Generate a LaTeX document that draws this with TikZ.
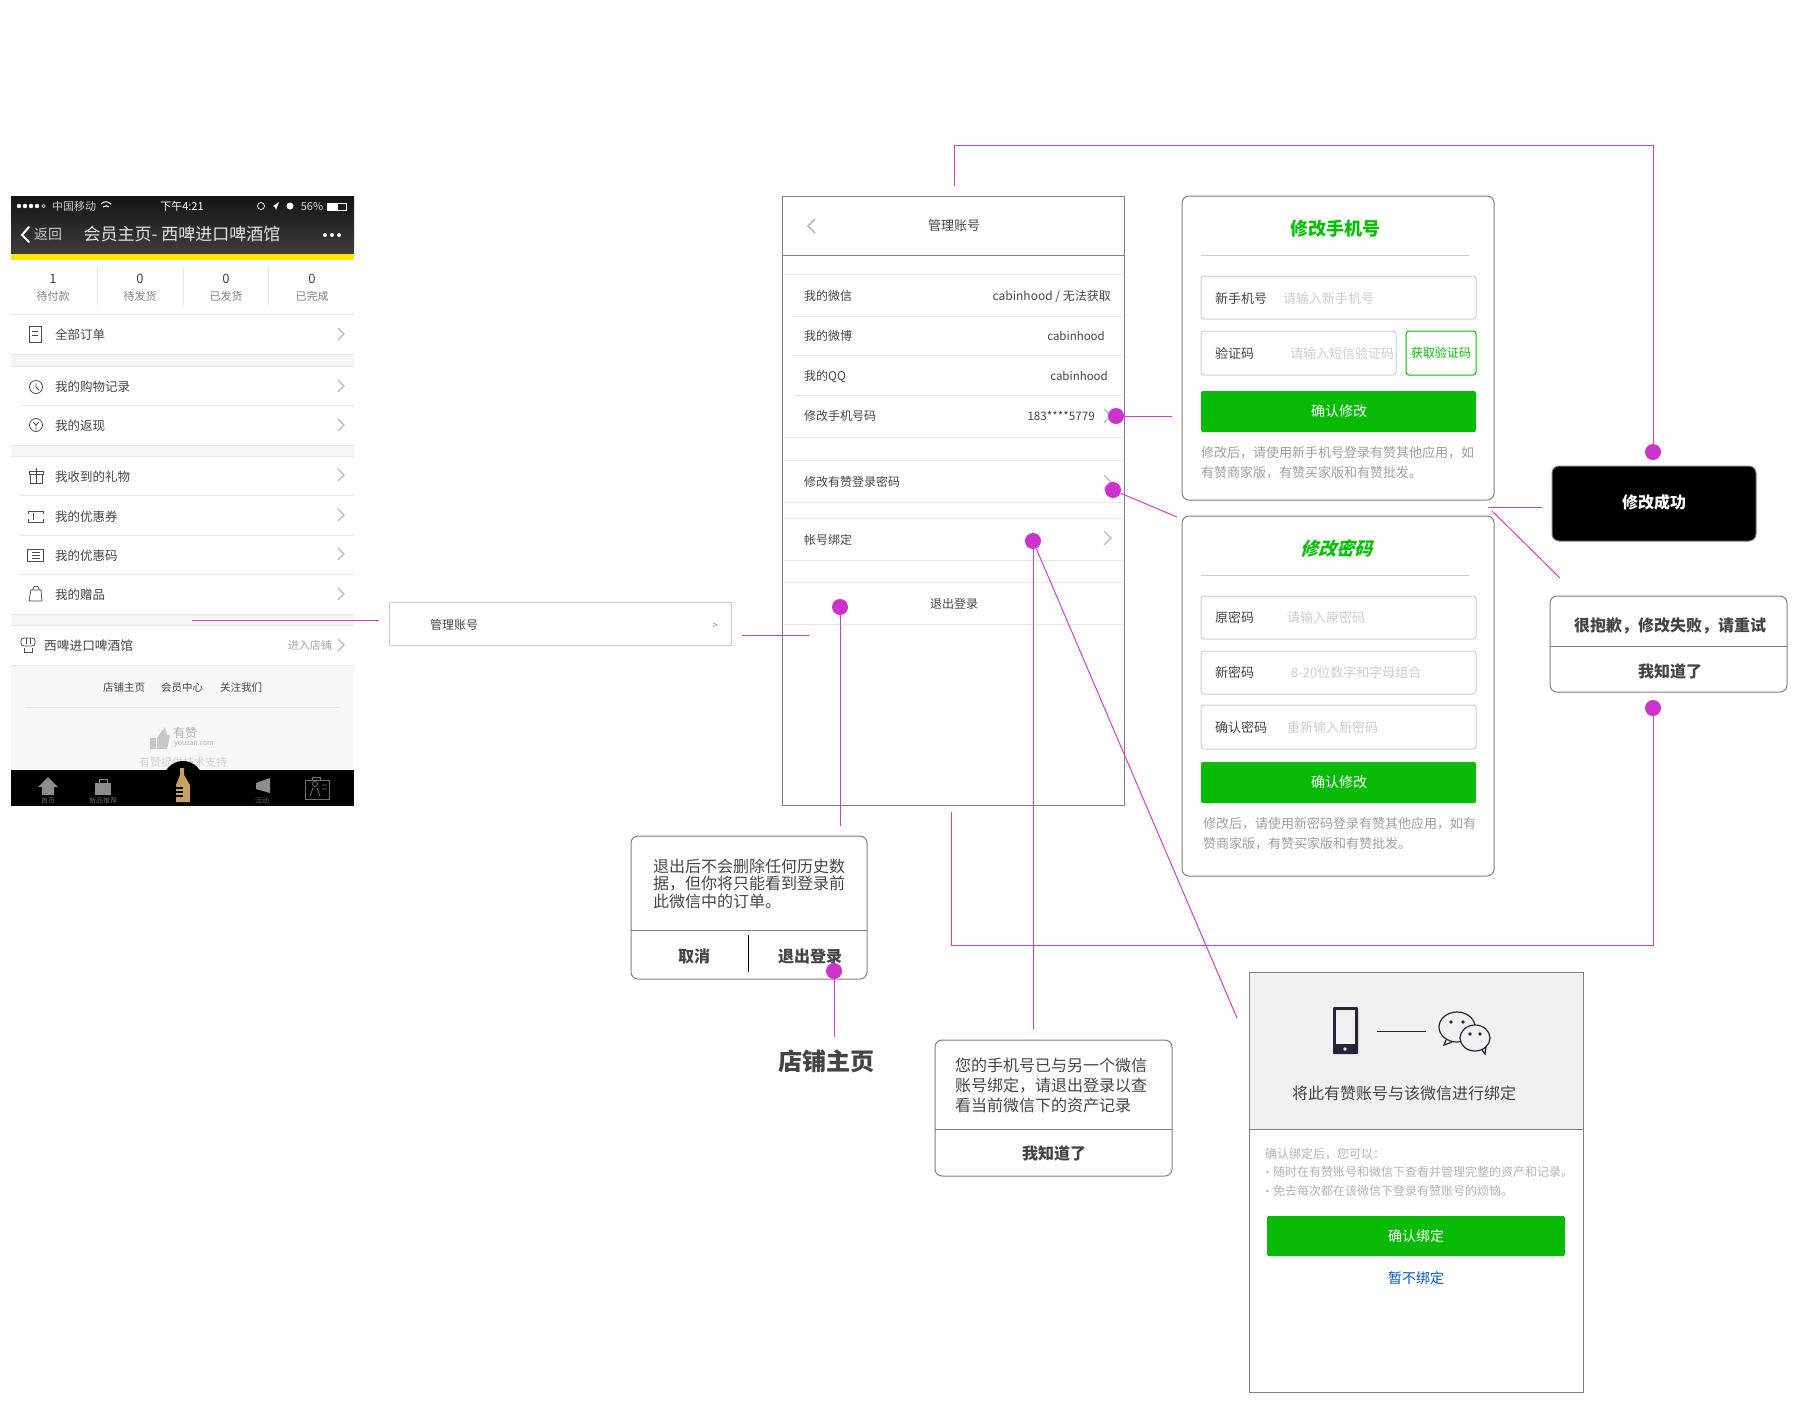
\documentclass[tikz,border=0pt]{standalone}
\usepackage{fontspec}
\setmainfont{Noto Sans CJK SC}
\newfontfamily\slantcjk[FakeSlant=0.3,BoldFeatures={FakeSlant=0.3}]{Noto Sans CJK SC}
\definecolor{linkpink}{HTML}{D53AD5}
\definecolor{dotpink}{HTML}{CC33CC}
\definecolor{okgreen}{HTML}{09BB07}
\definecolor{titlegreen}{HTML}{00C000}
\definecolor{framegray}{HTML}{808080}
\definecolor{sepgray}{HTML}{E6E6E6}
\definecolor{boxgray}{HTML}{CCCCCC}
\definecolor{inkgray}{HTML}{444444}
\definecolor{iconink}{HTML}{25253A}
\definecolor{bottletan}{HTML}{C8A064}
\tikzset{
  sz/.style={inner sep=0pt,font=\fontsize{#1}{#1}\selectfont,text height={0.9*#1pt},text depth={0.1*#1pt},text=inkgray},
  lefttxt/.style={sz=#1,anchor=west},
  righttxt/.style={sz=#1,anchor=east},
  hint/.style={lefttxt=13,text=boxgray},
  note/.style={lefttxt=13,text=black!38},
  bindnote/.style={lefttxt=12,text=black!30},
  tiptxt/.style={lefttxt=16},
  boldtxt/.style={sz=16,font=\fontsize{16}{16}\selectfont\bfseries},
  link/.style={draw=linkpink,line width=1pt},
  dot/.style={circle,fill=dotpink,inner sep=0pt,minimum size=16pt},
  sep/.style={draw=sepgray,line width=1pt},
  chev/.style={draw=black!28,line width=1.2pt},
  frame/.style={draw=framegray,line width=1pt},
  card/.style={frame,rounded corners=7pt},
  field/.style={draw=boxgray,line width=1pt,rounded corners=3pt},
  okbtn/.style={fill=okgreen,rounded corners=2pt},
  okbtntxt/.style={sz=14,text=white},
  icon/.style={draw=black!70,line width=.8pt},
  tabicon/.style={fill=black!45},
}
\begin{document}
\begin{tikzpicture}[x=1pt,y=-1pt]
\useasboundingbox (0,0) rectangle (1797,1401);
% left phone, top bar
\fill[top color=black!92,bottom color=black!76] (11,196) rectangle (354,254);
\fill[yellow!88!orange] (11,254) rectangle (354,260);
\foreach \x in {19,25,31,37}{\fill[white] (\x,206) circle(2.2);}
\draw[white,line width=.5pt] (43.5,206) circle(1.8);
\node[lefttxt=11,text=black!20] (carrier) at (52,206) {中国移动};
\draw[white,line width=1pt] (101,204) arc(220:320:6.5);
\draw[white,line width=1pt] (103,207) arc(220:320:3.8);
\node[sz=11,text=white] (clock) at (182,206) {下午4:21};
\draw[white,line width=.7pt] (261,206) circle(3.5);
\fill[white] (273,206)--(279,202)--(276,210)--(275,207)--cycle;
\fill[white] (290,206) circle(3.5);
\node[sz=11,text=black!15] (battery) at (312,206) {56\%};
\draw[white,line width=.6pt] (327,203) rectangle (346,210);
\fill[white] (327,203) rectangle (338,210);
\draw[white,line width=2pt,line cap=round] (29,227)--(22,235)--(29,242);
\node[lefttxt=14,text=black!20] (backtxt) at (34,234) {返回};
\node[sz=17,text=black!10] (shoptitle) at (182,234) {会员主页- 西啤进口啤酒馆};
\foreach \x in {325,332,339}{\fill[white] (\x,235) circle(2);}
% order counters
\foreach \i/\x/\n/\t in {a/53/1/待付款,b/140/0/待发货,c/226/0/已发货,d/312/0/已完成}{
  \node[sz=13] (num\i) at (\x,278) {\n};
  \node[sz=11,text=black!50] (lab\i) at (\x,296) {\t};
}
\foreach \x in {97,183,268}{\draw[sep] (\x,268)--(\x,305);}
% menu of the left phone
\fill[black!4] (11,354) rectangle (354,366);
\fill[black!4] (11,445) rectangle (354,456);
\fill[black!4] (11,614) rectangle (354,625);
\foreach \y in {314,354,366,445,456,614,625,665}{\draw[sep] (11,\y)--(354,\y);}
\foreach \y in {405,495,535,574}{\draw[sep] (20,\y)--(354,\y);}
\foreach \i/\y/\t in {a/334/全部订单,b/386/我的购物记录,c/425/我的返现,d/476/我收到的礼物,e/516/我的优惠券,f/555/我的优惠码,g/594/我的赠品}{
  \node[lefttxt=12.5] (menu\i) at (55,\y) {\t};
}
\foreach \y in {334,386,425,475,515,554,594,645}{
  \draw[chev] (338,\y-6)--(344,\y)--(338,\y+6);
}
\draw[icon] (29,326) rectangle (41,342); % doc
\draw[icon] (32,331)--(38,331) (32,335)--(38,335);
\draw[icon] (36,387) circle(6.5);\draw[icon] (36,383)--(36,387)--(39,390); % clock
\draw[icon] (36,425) circle(6.5);\draw[icon] (33,422)--(36,425)--(39,422) (36,425)--(36,430); % yen
\draw[icon] (30,474) rectangle (42,483) (29,471) rectangle (43,474) (36,468)--(36,483); % gift
\draw[icon] (28,511)--(43,511)--(43,514) (43,519)--(43,522)--(28,522)--(28,519) (28,514)--(28,511) (33,513)--(33,520); % ticket
\draw[icon] (27,549) rectangle (43,561) (32,552)--(40,552) (32,555)--(40,555) (32,558)--(40,558); % code
\draw[icon] (31,590)--(41,590)--(42,601)--(29,601)--cycle (33,590)--(33,589) arc(180:360:3)--(39,590); % bag
\draw[icon,rounded corners=3pt] (21,646)--(21,638)--(35,638)--(35,646)--cycle; % shop
\draw[icon] (26,638)--(26,644) (30,638)--(30,644) (24,648)--(24,652)--(32,652)--(32,648);
\node[lefttxt=12.7] (shopname) at (44,645) {西啤进口啤酒馆};
\node[righttxt=11,text=black!35] (enter) at (332,645) {进入店铺};
% footer of the left phone
\fill[black!3] (11,666) rectangle (354,770);
\foreach \i/\x/\t in {a/124/店铺主页,b/182/会员中心,c/241/关注我们}{
  \node[sz=10.5] (foot\i) at (\x,687) {\t};
}
\draw[sep] (25,707)--(340,707);
\fill[black!22] (150,738) rectangle (156,749) (157,738)--(165,727)--(167,735)--(170,735)--(167,749)--(157,749)--cycle;
\node[sz=12,text=black!30] (zan) at (185,733) {有赞};
\node[sz=7,text=black!30] (zanurl) at (194,743) {youzan.com};
\node[sz=11,text=black!18] (support) at (183,762) {有赞提供技术支持};
\fill[black] (11,770) rectangle (354,806);
\fill[black] (183,781) circle(20);
\fill[tabicon] (48,777)--(38,787)--(42,787)--(42,795)--(54,795)--(54,787)--(58,787)--cycle; % home
\fill[tabicon] (95,783) rectangle (111,795);
\draw[black!45,line width=1pt] (99,783)--(99,779)--(107,779)--(107,783);
\fill[tabicon] (256,783)--(270,778)--(270,793)--(256,789)--cycle; % megaphone
\draw[black!55,line width=.8pt] (305,780) rectangle (329,799) (312,780)--(312,777)--(320,777)--(320,780); % card
\draw[black!55,line width=.8pt] (315,784) circle(2.5) (310,796)--(313,788) (320,796)--(317,788) (322,785)--(327,785) (322,789)--(327,789);
\fill[bottletan] (180,768)--(184,768)--(184,775)--(190,785)--(190,802)--(176,802)--(176,785)--(180,775)--cycle; % bottle
\draw[black,line width=1.2pt] (176,788)--(183,788) (176,792)--(183,792) (176,796)--(183,796);
\foreach \i/\x/\t in {a/48/首页,b/103/新品推荐,c/262/活动}{
  \node[sz=7,text=black!60] (tab\i) at (\x,801) {\t};
}
% entry row
\draw[boxgray,line width=1pt] (389,602) rectangle (731.5,645);
\node[sz=12] (entry) at (454,625) {管理账号};
\node[sz=9,text=black!50] (entrygt) at (715,625) {>};
% manage screen
\draw[frame] (782.5,196) rectangle (1124,805);
\draw[frame] (782.5,255)--(1124,255);
\node[sz=13] (managetitle) at (954,225) {管理账号};
\draw[chev,line width=1.5pt] (815,219)--(808,226)--(815,233);
\foreach \y in {274,437,460,502,518,560,582,624}{\draw[sep] (784,\y)--(1123,\y);}
\foreach \y in {316,355}{\draw[sep] (792,\y)--(1122,\y);}
\draw[sep] (794,395)--(1123,395);
\foreach \i/\y/\t in {a/296/我的微信,b/336/我的微博,c/376/我的QQ,d/416/修改手机号码,e/482/修改有赞登录密码,f/540/帐号绑定}{
  \node[lefttxt=12] (row\i) at (804,\y) {\t};
}
\node[righttxt=12] (wxval) at (1111,296) {cabinhood / 无法获取};
\node[righttxt=11.5] (wbval) at (1105,336) {cabinhood};
\node[righttxt=11.5] (qqval) at (1108,376) {cabinhood};
\node[righttxt=11.7] (phoneval) at (1095,416) {183****5779};
\node[sz=12] (logout) at (954,604) {退出登录};
\foreach \y in {416,482,538}{\draw[chev] (1104,\y-7)--(1111,\y)--(1104,\y+7);}
% change mobile card
\draw[card] (1182,196) rectangle (1494,500);
\node[sz=18,font=\fontsize{18}{18}\selectfont\bfseries,text=titlegreen] (mobiletitle) at (1335,228) {修改手机号};
\draw[boxgray,line width=1pt] (1201,255)--(1469,255);
\draw[field] (1201,276) rectangle (1476,319);
\node[lefttxt=13] (mfielda) at (1215,298) {新手机号};
\node[hint] (mhinta) at (1283,298) {请输入新手机号};
\draw[field] (1201,331) rectangle (1396,375);
\node[lefttxt=13] (mfieldb) at (1215,353) {验证码};
\node[hint] (mhintb) at (1290,353) {请输入短信验证码};
\draw[draw=titlegreen,line width=1pt,rounded corners=3pt] (1406,331) rectangle (1476,375);
\node[sz=12,text=titlegreen] (getcode) at (1441,353) {获取验证码};
\fill[okbtn] (1201,391) rectangle (1476,432);
\node[okbtntxt] (mokay) at (1339,411) {确认修改};
\node[note] (mnotea) at (1201,452) {修改后，请使用新手机号登录有赞其他应用，如};
\node[note] (mnoteb) at (1201,472) {有赞商家版，有赞买家版和有赞批发。};
% change password card
\draw[card] (1182,516) rectangle (1494,876);
\node[sz=18,font=\fontsize{18}{18}\selectfont\slantcjk\bfseries,text=titlegreen] (pwtitle) at (1336,548) {修改密码};
\draw[boxgray,line width=1pt] (1201,575)--(1469,575);
\foreach \i/\a/\b/\l/\hx/\h in {a/596/639/原密码/1287/请输入原密码,b/651/694/新密码/1291/8-20位数字和字母组合,c/705/749/确认密码/1287/重新输入新密码}{
  \draw[field] (1201,\a) rectangle (1476,\b);
  \node[lefttxt=13] (pfield\i) at (1215,{(\a+\b)/2}) {\l};
  \node[hint] (phint\i) at (\hx,{(\a+\b)/2}) {\h};
}
\fill[okbtn] (1201,762) rectangle (1476,803);
\node[okbtntxt] (pokay) at (1339,782) {确认修改};
\node[note] (pnotea) at (1203,823) {修改后，请使用新密码登录有赞其他应用，如有};
\node[note] (pnoteb) at (1203,843) {赞商家版，有赞买家版和有赞批发。};
% result boxes
\draw[card,fill=black] (1552,466) rectangle (1756,541);
\node[sz=16,font=\fontsize{16}{16}\selectfont\bfseries,text=white] (okmsg) at (1654,502) {修改成功};
\draw[card] (1550,596) rectangle (1787,692);
\draw[frame] (1550,646)--(1787,646);
\node[boldtxt] (failmsg) at (1670,625) {很抱歉，修改失败，请重试};
\node[boldtxt] (failbtn) at (1670,671) {我知道了};
% logout dialog
\draw[card] (631,836) rectangle (867,979);
\draw[frame] (631,930)--(867,930);
\draw[black,line width=1pt] (748,935)--(748,972);
\foreach \i/\y/\t in {a/866/退出后不会删除任何历史数,b/883/据，但你将只能看到登录前,c/901/此微信中的订单。}{
  \node[tiptxt] (quit\i) at (653,\y) {\t};
}
\node[boldtxt] (cancel) at (694,956) {取消};
\node[boldtxt] (quitbtn) at (810,956) {退出登录};
\node[sz=24,font=\fontsize{24}{24}\selectfont\bfseries] (shophome) at (826,1061) {店铺主页};
% bound dialog
\draw[card] (935,1040) rectangle (1172,1176);
\draw[frame] (935,1129)--(1172,1129);
\foreach \i/\y/\t in {a/1065/您的手机号已与另一个微信,b/1085/账号绑定，请退出登录以查,c/1105/看当前微信下的资产记录}{
  \node[tiptxt] (bound\i) at (955,\y) {\t};
}
\node[boldtxt] (boundbtn) at (1054,1153) {我知道了};
% bind screen
\fill[black!6] (1249,972.5) rectangle (1583.5,1129);
\draw[frame] (1249,972.5) rectangle (1583.5,1392);
\draw[frame] (1249,1129)--(1583.5,1129);
\fill[iconink,rounded corners=1pt] (1333,1007) rectangle (1358,1054);
\fill[black!6] (1336,1010) rectangle (1355,1044);
\fill[black!6] (1345,1049) circle(1.8);
\draw[iconink,line width=1pt] (1377,1031)--(1426,1031);
\draw[iconink,line width=1.2pt] (1457,1027) ellipse(18 and 15);
\fill[black!6] (1475,1038) ellipse(15 and 13);
\draw[iconink,line width=1.2pt] (1475,1038) ellipse(15 and 13);
\draw[iconink,line width=1.2pt] (1446,1040)--(1444,1045)--(1452,1042);
\draw[iconink,line width=1.2pt] (1482,1050)--(1485,1054)--(1486,1047);
\foreach \x/\y in {1451/1022,1463/1022,1470/1034,1480/1034}{\fill[iconink] (\x,\y) circle(1.8);}
\node[sz=16] (bindtitle) at (1404,1093) {将此有赞账号与该微信进行绑定};
\node[bindnote] (bindnotea) at (1265,1154) {确认绑定后，您可以：};
\foreach \y in {1172,1191}{\fill[black!30] (1267.5,\y) circle(1.3);}
\node[bindnote] (bindnoteb) at (1273,1172) {随时在有赞账号和微信下查看并管理完整的资产和记录。};
\node[bindnote] (bindnotec) at (1273,1191) {免去每次都在该微信下登录有赞账号的烦恼。};
\fill[okbtn] (1267,1216) rectangle (1565,1256);
\node[okbtntxt] (bindokay) at (1416,1236) {确认绑定};
\node[sz=14,text=blue!60!cyan!80!black] (bindskip) at (1416,1278) {暂不绑定};
% connectors
\node[dot] (dphone) at (1116,416) {};
\node[dot] (dpass) at (1113,490) {};
\node[dot] (dbind) at (1033,541) {};
\node[dot] (dquit) at (840,607) {};
\node[dot] (dhome) at (834,971) {};
\node[dot] (dok) at (1653,452) {};
\node[dot] (dfail) at (1653,708) {};
\coordinate (menuout) at (192,620);
\coordinate (menuin) at (379,620);
\coordinate (entryout) at (742,635);
\coordinate (entryin) at (809,635);
\coordinate (phonein) at (1172,416);
\coordinate (passin) at (1177,517);
\coordinate (quitin) at (840,826);
\coordinate (boundin) at (1033,1030);
\coordinate (bindin) at (1237,1018);
\coordinate (homein) at (834,1037);
\coordinate (topstart) at (954,186);
\coordinate (loopstart) at (951,812);
\coordinate (okouta) at (1488,507);
\coordinate (okoutb) at (1542,507);
\coordinate (failouta) at (1492,511);
\coordinate (failoutb) at (1560,578);
\draw[link] (menuout)--(menuin);
\draw[link] (entryout)--(entryin);
\draw[link] (dphone)--(phonein);
\draw[link] (dpass)--(passin);
\draw[link] (dquit)--(quitin);
\draw[link] (dbind)--(boundin);
\draw[link] (dbind)--(bindin);
\draw[link] (dhome)--(homein);
\draw[link] (topstart)--(954,145)--(1653,145)--(dok);
\draw[link] (loopstart)--(951,945)--(1653,945)--(dfail);
\draw[link] (okouta)--(okoutb);
\draw[link] (failouta)--(failoutb);
\end{tikzpicture}
\end{document}
